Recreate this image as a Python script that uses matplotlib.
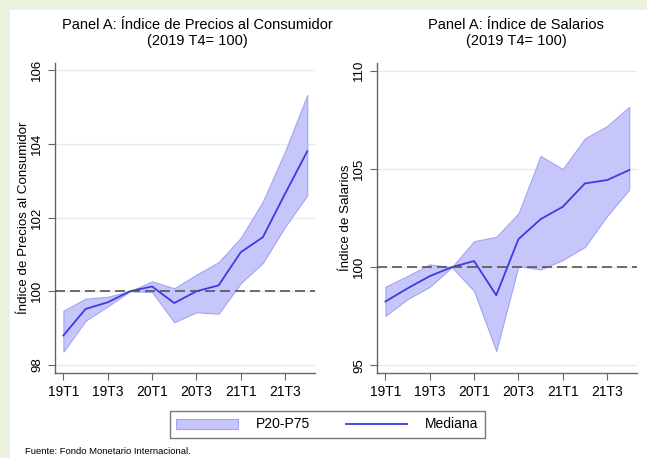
import numpy as np
import matplotlib.pyplot as plt

plt.rcParams['font.family'] = ['Liberation Sans', 'DejaVu Sans']

# trimestres 19T1 .. 21T4
quarters = ['19T1', '19T2', '19T3', '19T4', '20T1', '20T2', '20T3', '20T4',
            '21T1', '21T2', '21T3', '21T4']
tick_labels = ['19T1', '19T3', '20T1', '20T3', '21T1', '21T3']

# Panel izquierdo: IPC
ipc_med = [98.80, 99.52, 99.70, 100.0, 100.13, 99.68, 100.0, 100.16, 101.06, 101.47, 102.65, 103.80]
ipc_p75 = [99.47, 99.80, 99.85, 100.0, 100.27, 100.08, 100.45, 100.79, 101.45, 102.44, 103.80, 105.33]
ipc_p20 = [98.36, 99.20, 99.59, 100.0, 99.98, 99.16, 99.43, 99.39, 100.22, 100.77, 101.75, 102.60]

# Panel derecho: salarios
sal_med = [98.25, 98.92, 99.54, 100.0, 100.31, 98.57, 101.42, 102.44, 103.07, 104.26, 104.43, 104.94]
sal_p75 = [99.00, 99.55, 100.14, 100.0, 101.32, 101.54, 102.73, 105.66, 104.99, 106.55, 107.18, 108.16]
sal_p20 = [97.52, 98.37, 99.00, 100.0, 98.78, 95.73, 100.05, 99.88, 100.36, 101.03, 102.60, 103.95]

fill_c = '#c6c6fb'
edge_c = '#a4a4f4'
line_c = '#3b3be6'

fig = plt.figure(figsize=(6.47, 4.58), dpi=100, facecolor='#eaf1dd')
# fondo blanco
fig.patches.append(plt.Rectangle((10 / 647, 0), 1, (458 - 10) / 458,
                                 transform=fig.transFigure, color='white', zorder=-5))

W, H = 647, 458
def axes_px(x0, x1, y0, y1):
    a = fig.add_axes([x0 / W, 1 - y1 / H, (x1 - x0) / W, (y1 - y0) / H])
    a.set_zorder(2)
    return a

ax1 = axes_px(55, 315, 63, 373)
ax2 = axes_px(377, 637, 63, 373)

x = np.arange(len(quarters))
panels = [
    (ax1, ipc_med, ipc_p20, ipc_p75, [98, 100, 102, 104, 106], (97.78, 106.2),
     'Índice de Precios al Consumidor'),
    (ax2, sal_med, sal_p20, sal_p75, [95, 100, 105, 110], (94.61, 110.39),
     'Índice de Salarios'),
]

for ax, med, lo, hi, yt, ylim, ylab in panels:
    ax.set_facecolor('white')
    ax.fill_between(x, lo, hi, color=fill_c, edgecolor=edge_c, linewidth=0.8,
                    zorder=2, label='P20-P75')
    ax.plot(x, med, color=line_c, linewidth=1.3, zorder=3, label='Mediana')
    ax.axhline(100, color='#555555', linestyle=(0, (6, 3)), linewidth=1.2, zorder=4)
    ax.set_yticks(yt)
    ax.set_yticklabels([str(v) for v in yt], rotation=90, va='center')
    ax.set_ylim(*ylim)
    ax.set_xlim(-0.38, 11.35)
    ax.set_xticks(x[::2])
    ax.set_xticklabels(tick_labels)
    ax.grid(axis='y', color='#e3ecee', linewidth=1.0, zorder=1)
    ax.set_axisbelow(True)
    for s in ['top', 'right']:
        ax.spines[s].set_visible(False)
    for s in ['left', 'bottom']:
        ax.spines[s].set_color('#666666')
        ax.spines[s].set_linewidth(1.0)
    ax.tick_params(colors='#666666', labelcolor='black', labelsize=9.5, length=5)
    ax.tick_params(axis='x', labelsize=10)
    ax.set_ylabel(ylab, fontsize=9.6, labelpad=1)

fig.text(197 / W, 1 - 33 / H, 'Panel A: Índice de Precios al Consumidor\n(2019 T4= 100)',
         ha='center', va='center', fontsize=10.5, linespacing=1.1)
fig.text(516 / W, 1 - 33 / H, 'Panel A: Índice de Salarios\n(2019 T4= 100)',
         ha='center', va='center', fontsize=10.5, linespacing=1.1)

h, l = ax1.get_legend_handles_labels()
leg = fig.legend(h, l, loc='center', bbox_to_anchor=(327.5 / W, 1 - 424.5 / H),
                 ncol=2, frameon=True, fancybox=False, fontsize=10,
                 handlelength=4.4, columnspacing=2.6, handletextpad=1.3,
                 borderpad=0.5)
leg.get_frame().set_edgecolor('#555555')
leg.get_frame().set_linewidth(1.0)

fig.text(25 / W, 1 - 451 / H, 'Fuente: Fondo Monetario Internacional.', fontsize=6.8,
         ha='left', va='center')

fig.savefig('out.png', dpi=100, facecolor=fig.get_facecolor())
